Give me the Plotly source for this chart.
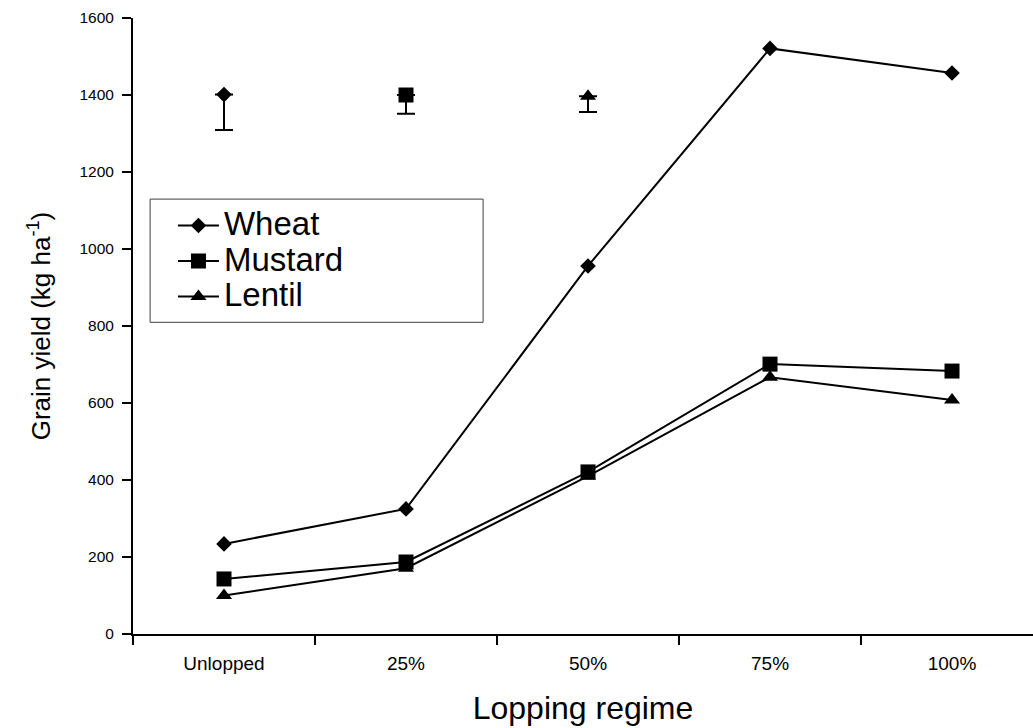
import plotly.graph_objects as go

categories = ["Unlopped", "25%", "50%", "75%", "100%"]
wheat = [234, 325, 956, 1521, 1457]
mustard = [143, 187, 421, 701, 683]
lentil = [100, 171, 410, 667, 608]

# error-bar reference markers (value, lower error)
err_x = ["Unlopped", "25%", "50%"]
err_y = [1401, 1400, 1397]
err_minus = [92, 49, 41]
err_symbols = ["diamond", "square", "triangle-up"]
err_sizes = [12, 15, 14]

FONT = "Liberation Sans, Arial, sans-serif"

fig = go.Figure()

series = [("Wheat", wheat, "diamond", 12),
          ("Mustard", mustard, "square", 15),
          ("Lentil", lentil, "triangle-up", 14)]
for name, vals, sym, sz in series:
    fig.add_trace(go.Scatter(
        x=categories, y=vals,
        name="<span style='font-size:33px'>" + name + "</span>",
        mode="lines+markers",
        line=dict(color="black", width=2),
        marker=dict(symbol=sym, size=sz, color="black"),
    ))

for i in range(3):
    fig.add_trace(go.Scatter(
        x=[err_x[i]], y=[err_y[i]], mode="markers", showlegend=False,
        marker=dict(symbol=err_symbols[i], size=err_sizes[i], color="black"),
        error_y=dict(type="data", symmetric=False, array=[0],
                     arrayminus=[err_minus[i]], color="black",
                     thickness=2, width=9),
    ))

fig.add_shape(type="rect", xref="paper", yref="paper",
              x0=0.019, x1=0.389, y0=0.506, y1=0.706,
              line=dict(color="#404040", width=1))

fig.update_layout(
    width=1033, height=728,
    margin=dict(l=133, r=0, t=18, b=94),
    paper_bgcolor="white", plot_bgcolor="white",
    font=dict(family=FONT, color="black"),
    showlegend=True,
    legend=dict(x=0.0444, y=0.700, xanchor="left", yanchor="top",
                bgcolor="rgba(0,0,0,0)", borderwidth=0,
                font=dict(size=25, family=FONT, color="black"),
                itemwidth=41),
    xaxis=dict(
        type="category", categoryorder="array", categoryarray=categories,
        range=[-0.5, 4.445], tickson="boundaries",
        ticks="outside", ticklen=9, tickwidth=1.5, tickcolor="black",
        showline=True, linecolor="black", linewidth=2,
        showgrid=False, zeroline=False,
        ticklabelstandoff=11,
        tickfont=dict(size=19, family=FONT),
        title=dict(text="Lopping regime", font=dict(size=32, family=FONT), standoff=24),
    ),
    yaxis=dict(
        range=[0, 1600], dtick=200, tick0=0,
        ticks="outside", ticklen=9, tickwidth=1.5, tickcolor="black",
        showline=True, linecolor="black", linewidth=2,
        showgrid=False, zeroline=False,
        ticklabelstandoff=5,
        tickfont=dict(size=15.5, family=FONT),
        title=dict(text="Grain yield (kg ha<sup>-1</sup>)", font=dict(size=26, family=FONT), standoff=21),
    ),
)

fig.write_html("out.html", config={"displayModeBar": False},
               post_script="document.body.style.margin='0px';")
